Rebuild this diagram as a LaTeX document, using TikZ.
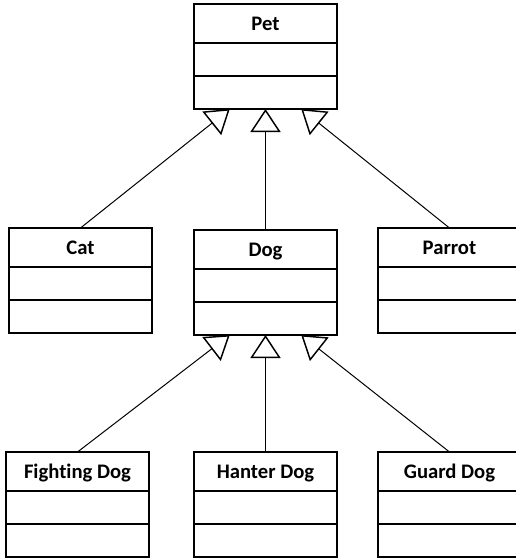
\documentclass[tikz,border=0pt]{standalone}
\usepackage{fontspec}
\setmainfont{Carlito}[Ligatures=NoCommon]
\usetikzlibrary{arrows.meta,calc}
\tikzset{
  classbox/.style={draw, line width=1.5pt, minimum width=107.25pt, minimum height=78.75pt, outer sep=0pt, inner sep=0pt, anchor=north west},
  classname/.style={font=\bfseries\fontsize{15.5}{18}\selectfont, inner sep=0pt, anchor=base},
  divider/.style={line width=1.5pt},
  inherit/.style={line width=0.75pt, -{Triangle[open, length=17.25pt, width=22.5pt, line width=1.1pt]}},
}
\newcommand{\umlclass}[3]{%
  \node[classbox] (#1) at (#2) {};
  \node[classname] (#1-name) at ($(#1.north)+(0,26.5)$) {#3};
  \draw[divider] ($(#1.north west)+(0,39)$) -- ($(#1.north east)+(0,39)$);
  \draw[divider] ($(#1.north west)+(0,72)$) -- ($(#1.north east)+(0,72)$);
}
\begin{document}
\begin{tikzpicture}[x=0.75pt, y=-0.75pt]
  \useasboundingbox (0,0) rectangle (516,558);
  \clip (0,0) rectangle (516,558);
  \umlclass{pet}{194,4}{Pet}
  \umlclass{cat}{9,228}{Cat}
  \umlclass{dog}{194,230}{Dog}
  \umlclass{parrot}{378,228}{Parrot}
  \umlclass{fight}{6,452}{Fighting Dog}
  \umlclass{hanter}{194,452}{Hanter Dog}
  \umlclass{guard}{378,452}{Guard Dog}
  \draw[inherit] (cat.north) -- ($(pet.south west)!0.25!(pet.south east)$);
  \draw[inherit] (dog.north) -- (pet.south);
  \draw[inherit] (parrot.north) -- ($(pet.south west)!0.75!(pet.south east)$);
  \draw[inherit] (fight.north) -- ($(dog.south west)!0.25!(dog.south east)$);
  \draw[inherit] (hanter.north) -- (dog.south);
  \draw[inherit] (guard.north) -- ($(dog.south west)!0.75!(dog.south east)$);
\end{tikzpicture}
\end{document}
